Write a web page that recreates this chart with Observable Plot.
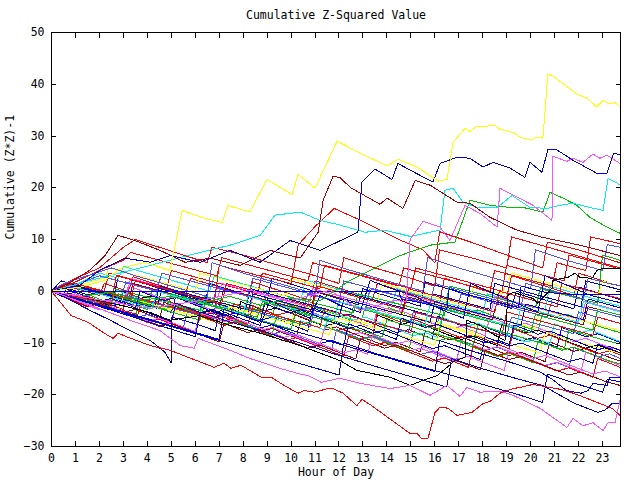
<!DOCTYPE html>
<html><head><meta charset="utf-8">
<script src="https://cdn.jsdelivr.net/npm/d3@7"></script>
<script src="https://cdn.jsdelivr.net/npm/@observablehq/plot@0.6"></script>
<style>body{margin:0;background:#fff;}</style>
</head><body><div id="chart"></div>
<script>
const chartTitle = "Cumulative Z-Squared Value";
const xTitle = "Hour of Day";
const yTitle = "Cumulative (Z*Z)-1";
const xTicks = [0,1,2,3,4,5,6,7,8,9,10,11,12,13,14,15,16,17,18,19,20,21,22,23];
const yTicks = [-30,-20,-10,0,10,20,30,40,50];

// each series: hour, value, hour, value, ...
const L1 = [0,0,0.6,-1,0.8,0.8,2,-0.8,2.2,1.5,3.2,0,3.4,2.8,4.6,1,5.6,-0.5,5.8,2.5,7,0.8,8.2,-1,8.4,1.8,9.6,0,10.8,-1.8,11,2,12.2,0.3,13.4,-1.5,13.6,1.5,15,-0.5,16.2,-2.2,16.4,2.5,17.8,0.5,19,-1.2,19.2,3,20.6,1,21.8,-0.8,22,3.5,23.73,1];
const L2 = [0,0,.5,-.8,1,-1.3,1.5,-.6,2,-1.5,2.5,-2.3,3,-1.9,3.5,-2.8,4,-3.5,4.2,.5,4.7,-.3,5.2,-1.2,5.7,-.8,6.2,-1.7,6.7,-2.6,7.2,-3.2,7.7,-2.5,8.2,-3.4,8.7,-4.3,9.2,-5,9.4,-1.8,9.9,-2.6,10.4,-3.4,10.9,-2.9,11.4,-3.8,11.9,-4.6,12.4,-5.4,12.9,-6.2,13.1,-3,13.6,-3.8,14.1,-3.2,14.6,-4.1,15.1,-5,15.6,-5.8,16.1,-6.5,16.3,-2.5,16.8,-3.3,17.3,-4.2,17.8,-3.6,18.3,-4.5,18.8,-5.4,19.3,-6.2,19.8,-7,20.3,-7.7,20.5,-4.2,21,-5,21.5,-4.4,22,-5.3,22.5,-6.2,23,-7,23.73,-8];
const L3 = [0,0,0.4,2,1.5,0.6,2.6,-0.9,2.8,3,4,1.3,5.2,-0.4,6.4,-2.1,6.6,1.5,7.8,-0.2,9,-1.9,9.2,2.5,10.4,0.8,11.6,-0.9,12.8,-2.6,13,0.5,14.2,-1.2,15.4,-2.9,15.6,1.8,16.8,0.1,18,-1.6,19.2,-3.3,19.4,0,20.6,-1.7,21.8,-3.4,22,0.8,23.73,-1.6];
const L4 = [0,0,.5,-.9,1,-.5,1.5,-1.4,2,-2.2,2.5,-1.6,3,-2.5,3.2,1,3.7,.2,4.2,-.7,4.7,-1.5,5.2,-1,5.7,-1.9,6.2,-2.8,6.7,-3.6,7.2,-3,7.7,-3.9,8.2,-4.8,8.4,-1.2,8.9,-2,9.4,-2.9,9.9,-2.3,10.4,-3.2,10.9,-4.1,11.4,-5,11.9,-4.4,12.4,-5.3,12.9,-6.2,13.4,-7.1,13.6,-3.5,14.1,-4.3,14.6,-3.8,15.1,-4.7,15.6,-5.6,16.1,-6.5,16.6,-7.3,17.1,-6.8,17.6,-7.7,18.1,-8.6,18.3,-5,18.8,-5.9,19.3,-6.8,19.8,-6.2,20.3,-7.1,20.8,-8,21.3,-8.9,21.8,-9.7,22.3,-9.1,22.8,-10,23.3,-10.9,23.73,-11.3];
const L5 = [0,0,1,1.2,2,3.5,2.8,2.5,3,4.8,4.2,3.2,5.4,1.6,6.6,0,6.8,3,8,1.4,9.2,-0.2,10.4,-1.8,10.6,2.2,11.8,0.6,13,-1,14.2,-2.6,14.4,0.5,15.6,-1.1,16.8,-2.7,18,-4.3,18.2,-0.5,19.4,-2.1,20.6,-3.7,20.8,1,22,-0.6,23.2,-2.2,23.73,-2.9];
const L6 = [0,0,1.2,-1.5,2.4,-3,2.6,-0.5,3.8,-2,5,-3.5,6.2,-5,6.4,-1.5,7.6,-3,8.8,-4.5,10,-6,10.2,-2.5,11.4,-4,12.6,-5.5,13.8,-7,14,-3.5,15.2,-5,16.4,-6.5,17.6,-8,17.8,-4.2,19,-5.7,20.2,-7.2,20.4,-3.5,21.6,-5,22.8,-6.5,23.73,-7.6];
const L7 = [0,0,.5,-.7,1,-1.5,1.5,-1,2,-1.9,2.5,-2.7,2.7,.3,3.2,-.5,3.7,-1.4,4.2,-.9,4.7,-1.8,5.2,-2.7,5.7,-3.5,6.2,-4.3,6.7,-3.7,7.2,-4.6,7.7,-5.5,7.9,-2,8.4,-2.9,8.9,-3.8,9.4,-3.2,9.9,-4.1,10.4,-5,10.9,-5.9,11.4,-6.7,11.9,-6.1,12.4,-7,12.9,-7.9,13.4,-8.7,13.6,-4.6,14.1,-5.5,14.6,-6.4,15.1,-5.8,15.6,-6.7,16.1,-7.6,16.6,-8.5,17.1,-9.3,17.6,-8.7,18.1,-9.6,18.6,-10.5,18.8,-6.3,19.3,-7.2,19.8,-8.1,20.3,-7.5,20.8,-8.4,21.3,-9.3,21.8,-10.2,22.3,-11,22.8,-10.4,23.3,-11.3,23.73,-12];
const L8 = [0,0,0.5,1.5,1.7,0,2.9,-1.5,3.1,1.8,4.3,0.3,5.5,-1.2,6.7,-2.7,6.9,0.8,8.1,-0.7,9.3,-2.2,10.5,-3.7,10.7,-0.5,11.9,-2,13.1,-3.5,13.3,0.5,14.5,-1,15.7,-2.5,16.9,-4,17.1,-0.5,18.3,-2,19.5,-3.5,20.7,-5,20.9,-1.5,22.1,-3,23.3,-4.5,23.73,-5];
const L9 = [0,0,.5,-1,1,-1.9,1.5,-1.4,2,-2.3,2.5,-3.2,3,-4.1,3.5,-3.5,4,-4.4,4.5,-5.3,4.7,-2.1,5.2,-3,5.7,-3.9,6.2,-4.8,6.7,-4.2,7.2,-5.1,7.7,-6,8.2,-6.9,8.7,-7.8,9.2,-7.2,9.7,-8.1,10.2,-9,10.4,-5.7,10.9,-6.6,11.4,-7.5,11.9,-6.9,12.4,-7.8,12.9,-8.7,13.4,-9.6,13.9,-10.5,14.4,-9.9,14.9,-10.8,15.4,-11.7,15.6,-7.6,16.1,-8.5,16.6,-9.4,17.1,-8.8,17.6,-9.7,18.1,-10.6,18.6,-11.5,19.1,-12.4,19.6,-11.8,20.1,-12.7,20.6,-13.6,20.8,-9.8,21.3,-10.7,21.8,-11.6,22.3,-11,22.8,-11.9,23.3,-12.8,23.73,-13.5];
const L10 = [0,0,1,1.5,2.2,0,2.4,3.5,3.6,2,4.8,0.5,5,4,6.2,2.5,7.4,1,8.6,-0.5,8.8,3.5,10,2,11.2,0.5,11.4,5,12.6,3.5,13.8,2,15,0.5,15.2,4.5,16.4,3,17.6,1.5,18.8,0,19,5,20.2,3.5,21.4,2,21.6,7,22.8,5.5,23.73,4.3];
const L11 = [0,0,1.2,-1.4,2.4,-2.8,2.6,0.5,3.8,-0.9,5,-2.3,6.2,-3.7,6.4,-1,7.6,-2.4,8.8,-3.8,9,0,10.2,-1.4,11.4,-2.8,12.6,-4.2,12.8,-0.5,14,-1.9,15.2,-3.3,16.4,-4.7,16.6,1,17.8,-0.4,19,-1.8,20.2,-3.2,20.4,0.5,21.6,-0.9,22.8,-2.3,23,7,23.73,6];
const L12 = [0,0,.5,.8,1,.1,1.5,-.7,2,-.2,2.5,-1.1,3,-2,3.5,-2.9,4,-2.3,4.5,-3.2,5,-4.1,5.2,-.8,5.7,-1.7,6.2,-2.6,6.7,-2,7.2,-2.9,7.7,-3.8,8.2,-4.7,8.7,-5.6,9.2,-5,9.7,-5.9,10.2,-6.8,10.7,-7.7,10.9,-3.2,11.4,-4.1,11.9,-5,12.4,-4.4,12.9,-5.3,13.4,-6.2,13.9,-7.1,14.4,-8,14.9,-7.4,15.4,-8.3,15.9,-9.2,16.1,-4.8,16.6,-5.7,17.1,-6.6,17.6,-6,18.1,-6.9,18.6,-7.8,19.1,-8.7,19.6,-9.6,20.1,-9,20.6,-9.9,21.1,-10.8,21.3,-7,21.8,-7.9,22.3,-8.8,22.8,-8.2,23.3,-9.1,23.73,-9.9];
const L13 = [0,0,0.7,1.5,1.9,0,3.1,-1.5,3.3,2.5,4.5,1,5.7,-0.5,6.9,-2,7.1,1.5,8.3,0,9.5,-1.5,10.7,-3,10.9,0.5,12.1,-1,13.3,-2.5,14.5,-4,14.7,-0.5,15.9,-2,17.1,-3.5,18.3,-5,18.5,-1,19.7,-2.5,20.9,-4,22.1,-5.5,22.3,-2,23.73,-3.8];
const L14 = [0,0,.5,-.8,1,-1.6,1.5,-2.4,2,-1.9,2.5,-2.8,2.7,.2,3.2,-.6,3.7,-1.5,4.2,-2.4,4.7,-1.8,5.2,-2.7,5.7,-3.6,6.2,-4.5,6.4,-1.5,6.9,-2.4,7.4,-3.3,7.9,-2.7,8.4,-3.6,8.9,-4.5,9.4,-5.4,9.9,-6.3,10.4,-5.7,10.9,-6.6,11.4,-7.5,11.6,-3.8,12.1,-4.7,12.6,-5.6,13.1,-5,13.6,-5.9,14.1,-6.8,14.6,-7.7,15.1,-8.6,15.6,-8,16.1,-8.9,16.3,-5,16.8,-5.9,17.3,-6.8,17.8,-6.2,18.3,-7.1,18.8,-8,19.3,-8.9,19.8,-9.8,20.3,-9.2,20.8,-10.1,21,-6.3,21.5,-7.2,22,-8.1,22.5,-7.5,23,-8.4,23.5,-9.3,23.73,-9.7];
const L15 = [0,0,1,1,2.2,2.5,2.4,4.5,3.6,3,4.8,1.5,6,0,6.2,3.5,7.4,2,8.6,0.5,9.8,-1,10,2.5,11.2,1,12.4,-0.5,13.6,-2,13.8,1.5,15,0,16.2,-1.5,17.4,-3,17.6,1,18.8,-0.5,19.2,3.5,20.4,2,21.6,0.5,22.8,-1,23,2,23.73,1];
const L16 = [0,0,.5,-1.1,1,-2,1.5,-1.5,2,-2.4,2.5,-3.3,3,-4.2,3.5,-5.1,4,-4.5,4.5,-5.4,5,-6.3,5.5,-7.1,5.7,-3.5,6.2,-4.4,6.7,-5.3,7.2,-4.7,7.7,-5.6,8.2,-6.5,8.7,-7.4,9.2,-8.3,9.7,-7.7,10.2,-8.6,10.7,-9.5,11.2,-10.4,11.7,-11.2,11.9,-7.4,12.4,-8.3,12.9,-9.2,13.4,-8.6,13.9,-9.5,14.4,-10.4,14.9,-11.3,15.4,-12.2,15.9,-11.6,16.4,-12.5,16.9,-13.4,17.1,-9.6,17.6,-10.5,18.1,-11.4,18.6,-10.8,19.1,-11.7,19.6,-12.6,20.1,-13.5,20.6,-14.4,21.1,-13.8,21.6,-14.7,21.8,-10.9,22.3,-11.8,22.8,-12.7,23.3,-12.1,23.73,-13];
const L17 = [0,0,0.8,1,2,-0.5,3.2,-2,3.4,1.5,4.6,0,5.8,-1.5,7,-3,7.2,0.5,8.4,-1,9.6,-2.5,10.8,-4,11,0,12.2,-1.5,13.4,-3,14.6,-4.5,14.8,-1,16,-2.5,17.2,-4,18.4,-5.5,18.6,-2,19.8,-3.5,21,-5,22.2,-6.5,22.4,-3,23.73,-4.6];
const L18 = [0,0,.5,-.6,1,-1.4,1.5,-.9,2,-1.8,2.5,-2.7,3,-3.5,3.2,-.4,3.7,-1.3,4.2,-2.2,4.7,-1.6,5.2,-2.5,5.7,-3.4,6.2,-4.3,6.7,-5.2,7.2,-4.6,7.7,-5.5,8.2,-6.4,8.4,-2.8,8.9,-3.7,9.4,-4.6,9.9,-4,10.4,-4.9,10.9,-5.8,11.4,-6.7,11.9,-7.6,12.4,-7,12.9,-7.9,13.4,-8.8,13.6,-4.2,14.1,-5.1,14.6,-6,15.1,-5.4,15.6,-6.3,16.1,-7.2,16.6,-8.1,17.1,-9,17.6,-8.4,18.1,-9.3,18.6,-10.2,19.1,-11.1,19.3,-7.3,19.8,-8.2,20.3,-9.1,20.8,-8.5,21.3,-9.4,21.8,-10.3,22.3,-11.2,22.8,-12.1,23.3,-11.5,23.73,-12.3];
const L19 = [0,0,1,-1.2,1.2,1,2.4,-0.5,3.6,-2,4.8,-3.5,5,-0.5,6.2,-2,7.4,-3.5,8.6,-5,8.8,-2,10,-3.5,11.2,-5,12.4,-6.5,12.6,-3,13.8,-4.5,15,-6,16.2,-7.5,16.4,-3.5,17.6,-5,18.8,-6.5,20,-8,20.2,-4.5,21.4,-6,22.6,-7.5,22.8,-3.5,23.73,-4.6];
const L20 = [0,0,0.8,1.2,2,-0.3,3.2,-1.8,4.4,-3.3,4.6,0.5,5.8,-1,7,-2.5,8.2,-4,8.4,-0.5,9.6,-2,10.8,-3.5,12,-5,12.2,-1.5,13.4,-3,14.6,-4.5,15.8,-6,16,-2,17.2,-3.5,18.4,-5,19.6,-6.5,19.8,-2.5,21,-4,22.2,-5.5,22.4,-1.5,23.73,-3.2];
const L21 = [0,0,.5,-1,1,-1.9,1.5,-2.8,2,-2.2,2.5,-3.1,3,-4,3.5,-4.9,4,-5.8,4.5,-5.2,5,-6.1,5.2,-2.8,5.7,-3.7,6.2,-4.6,6.7,-4,7.2,-4.9,7.7,-5.8,8.2,-6.7,8.7,-7.6,9.2,-7,9.7,-7.9,10.2,-8.8,10.7,-9.7,11.2,-10.6,11.4,-6.8,11.9,-7.7,12.4,-8.6,12.9,-8,13.4,-8.9,13.9,-9.8,14.4,-10.7,14.9,-11.6,15.4,-11,15.9,-11.9,16.4,-12.8,16.9,-13.7,17.1,-9.5,17.6,-10.4,18.1,-11.3,18.6,-10.7,19.1,-11.6,19.6,-12.5,20.1,-13.4,20.6,-14.3,21.1,-13.7,21.6,-14.6,22.1,-15.5,22.3,-11.8,22.8,-12.7,23.3,-13.6,23.73,-14.3];
const L22 = [0,0,1,1.8,2,4,3,6,3.3,7.5,4.5,6,5.7,4.5,6.9,3,7.1,6.5,8.3,5,9.5,3.5,10.7,2,10.9,5.5,12.1,4,13.3,2.5,14.5,1,14.7,4.5,15.9,3,17.1,1.5,18.3,0,18.5,4,19.7,2.5,20.9,1,21.1,5.5,22.3,4,22.5,10.5,23.73,9.2];
const L23 = [0,0,1.3,-1.6,2.6,-3.2,2.8,-0.5,4.1,-2.1,5.4,-3.7,6.7,-5.3,6.9,-2,8.2,-3.6,9.5,-5.2,10.8,-6.8,11,-3,12.3,-4.6,13.6,-6.2,14.9,-7.8,15.1,-4,16.4,-5.6,17.7,-7.2,19,-8.8,19.2,-5,20.5,-6.6,21.8,-8.2,22,-4,23.73,-6.2];
const L24 = [0,0,.5,-.9,1,-1.8,1.5,-1.2,2,-2.1,2.5,-3,3,-3.9,3.5,-4.8,3.7,-1.6,4.2,-2.5,4.7,-3.4,5.2,-2.8,5.7,-3.7,6.2,-4.6,6.7,-5.5,7.2,-6.4,7.7,-5.8,8.2,-6.7,8.7,-7.6,9.2,-8.5,9.4,-4.6,9.9,-5.5,10.4,-6.4,10.9,-5.8,11.4,-6.7,11.9,-7.6,12.4,-8.5,12.9,-9.4,13.4,-8.8,13.9,-9.7,14.4,-10.6,14.9,-11.5,15.1,-7.8,15.6,-8.7,16.1,-9.6,16.6,-9,17.1,-9.9,17.6,-10.8,18.1,-11.7,18.6,-12.6,19.1,-12,19.6,-12.9,20.1,-13.8,20.3,-9.6,20.8,-10.5,21.3,-11.4,21.8,-10.8,22.3,-11.7,22.8,-12.6,23.3,-13.5,23.73,-14];
const L25 = [0,0,0.5,-0.8,0.7,1.5,1.9,0,3.1,-1.5,4.3,-3,4.5,1,5.7,-0.5,6.9,-2,8.1,-3.5,8.3,0.5,9.5,-1,10.7,-2.5,11.9,-4,12.1,0,13.3,-1.5,14.5,-3,15.7,-4.5,15.9,-0.5,17.1,-2,18.3,-3.5,18.5,1.5,19.7,0,20.9,-1.5,22.1,-3,22.3,2,23.73,0.3];
const L26 = [0,0,1.2,-1.5,2.4,-3,3.6,-4.5,3.8,-1.5,5,-3,6.2,-4.5,7.4,-6,7.6,-2.5,8.8,-4,10,-5.5,11.2,-7,11.4,-3.5,12.6,-5,13.8,-6.5,15,-8,15.2,-4,16.4,-5.5,17.6,-7,18.8,-8.5,19,-4,20.2,-5.5,21.4,-7,22.6,-8.5,22.8,-5,23.73,-6.2];
const L27 = [0,0,1.4,-1.8,2.8,-3.6,3,-1,4.4,-2.8,5.8,-4.6,7.2,-6.4,7.4,-3,8.8,-4.8,10.2,-6.6,11.6,-8.4,11.8,-5,13.2,-6.8,14.6,-8.6,16,-10.4,16.2,-6.5,17.6,-8.3,19,-10.1,20.4,-11.9,20.6,-8,22,-9.8,23.73,-12];
const L28 = [0,0,.5,-.7,1,-.2,1.5,-1.1,2,-2,2.5,-2.9,3,-2.3,3.5,-3.2,4,-4.1,4.5,-5,5,-5.9,5.2,-2.3,5.7,-3.2,6.2,-4.1,6.7,-3.5,7.2,-4.4,7.7,-5.3,8.2,-6.2,8.7,-7.1,9.2,-6.5,9.7,-7.4,10.2,-8.3,10.7,-9.2,11.2,-10.1,11.7,-9.5,12.2,-10.4,12.4,-6.3,12.9,-7.2,13.4,-8.1,13.9,-7.5,14.4,-8.4,14.9,-9.3,15.4,-10.2,15.9,-11.1,16.4,-10.5,16.9,-11.4,17.4,-12.3,17.9,-13.2,18.1,-8.8,18.6,-9.7,19.1,-10.6,19.6,-10,20.1,-10.9,20.6,-11.8,21.1,-12.7,21.6,-13.6,22.1,-13,22.6,-13.9,22.8,-10.2,23.3,-11.1,23.73,-11.9];
const L29 = [0,0,0.6,1.2,1.8,-0.3,3,-1.8,4.2,-3.3,4.4,0,5.6,-1.5,6.8,-3,8,-4.5,8.2,-1,9.4,-2.5,10.6,-4,11.8,-5.5,12,-2,13.2,-3.5,14.4,-5,15.6,-6.5,15.8,-2.5,17,-4,18.2,-5.5,19.4,-7,19.6,-3,20.8,-4.5,22,-6,22.2,-2,23.73,-4];
const L30 = [0,0,.5,-1.1,1,-2.1,1.5,-3,2,-2.4,2.5,-3.3,3,-4.2,3.5,-5.1,4,-6,4.5,-5.4,5,-6.3,5.5,-7.2,6,-8.1,6.2,-4.8,6.7,-5.7,7.2,-6.6,7.7,-6,8.2,-6.9,8.7,-7.8,9.2,-8.7,9.7,-9.6,10.2,-9,10.7,-9.9,11.2,-10.8,11.7,-11.7,12.2,-12.6,12.4,-8.7,12.9,-9.6,13.4,-10.5,13.9,-9.9,14.4,-10.8,14.9,-11.7,15.4,-12.6,15.9,-13.5,16.4,-12.9,16.9,-13.8,17.4,-14.7,17.6,-10.6,18.1,-11.5,18.6,-12.4,19.1,-11.8,19.6,-12.7,20.1,-13.6,20.6,-14.5,21.1,-15.4,21.6,-14.8,22.1,-15.7,22.6,-16.6,22.8,-13,23.3,-13.9,23.73,-14.7];
const L31 = [0,0,1,1.2,2,3,3.2,1.5,4.4,0,4.6,3.5,5.8,2,7,0.5,8.2,-1,8.4,2.5,9.6,1,10.8,-0.5,12,-2,12.2,2,13.4,0.5,14.6,-1,15.8,-2.5,16,1.5,17.2,0,18.4,-1.5,19.6,-3,19.8,1.5,21,0,22.2,-1.5,22.4,2.5,23.73,1];
const L32 = [0,0,1.2,-1.6,2.4,-3.2,2.6,-0.8,3.8,-2.4,5,-4,6.2,-5.6,6.4,-2.5,7.6,-4.1,8.8,-5.7,10,-7.3,10.2,-4,11.4,-5.6,12.6,-7.2,13.8,-8.8,14,-5.5,15.2,-7.1,16.4,-8.7,17.6,-10.3,17.8,-6.5,19,-8.1,20.2,-9.7,21.4,-11.3,21.6,-7.5,22.8,-9.1,23.73,-10.2];
const L33 = [0,0,.5,-.9,1,-1.8,1.5,-2.7,2,-3.6,2.5,-3,3,-3.9,3.5,-4.8,4,-5.7,4.5,-6.6,5,-6,5.5,-6.9,6,-7.8,6.2,-4.1,6.7,-5,7.2,-5.9,7.7,-5.3,8.2,-6.2,8.7,-7.1,9.2,-8,9.7,-8.9,10.2,-8.3,10.7,-9.2,11.2,-10.1,11.7,-11,12.2,-11.9,12.7,-11.3,13.2,-12.2,13.4,-8.4,13.9,-9.3,14.4,-10.2,14.9,-9.6,15.4,-10.5,15.9,-11.4,16.4,-12.3,16.9,-13.2,17.4,-12.6,17.9,-13.5,18.4,-14.4,18.9,-15.3,19.1,-11.2,19.6,-12.1,20.1,-13,20.6,-12.4,21.1,-13.3,21.6,-14.2,22.1,-15.1,22.6,-16,23.1,-15.4,23.73,-16.5];
const L34 = [0,0,0.9,1.5,2.1,0,3.3,-1.5,3.5,2,4.7,0.5,5.9,-1,7.1,-2.5,7.3,1.5,8.5,0,9.7,-1.5,10.9,-3,11.1,1,12.3,-0.5,13.5,-2,14.7,-3.5,14.9,0.5,16.1,-1,17.3,-2.5,18.5,-4,18.7,0,19.9,-1.5,21.1,-3,21.3,1.5,22.5,0,23.73,-1.4];
const L35 = [0,0,.5,.6,1,-.2,1.5,-1.1,2,-2,2.5,-1.4,3,-2.3,3.5,-3.2,3.7,0,4.2,-.9,4.7,-1.8,5.2,-1.2,5.7,-2.1,6.2,-3,6.7,-3.9,7.2,-4.8,7.7,-4.2,8.2,-5.1,8.7,-6,8.9,-2.4,9.4,-3.3,9.9,-4.2,10.4,-3.6,10.9,-4.5,11.4,-5.4,11.9,-6.3,12.4,-7.2,12.9,-6.6,13.4,-7.5,13.9,-8.4,14.4,-9.3,14.6,-5.2,15.1,-6.1,15.6,-7,16.1,-6.4,16.6,-7.3,17.1,-8.2,17.6,-9.1,18.1,-10,18.6,-9.4,19.1,-10.3,19.3,-6.5,19.8,-7.4,20.3,-8.3,20.8,-7.7,21.3,-8.6,21.8,-9.5,22.3,-10.4,22.8,-11.3,23.3,-10.7,23.73,-11.4];
const L36 = [0,0,.5,-1,1,-2,1.5,-2.9,2,-2.3,2.5,-3.2,3,-4.1,3.5,-5,4,-5.9,4.5,-6.8,5,-6.2,5.5,-7.1,6,-8,6.5,-8.9,7,-9.8,7.2,-6.2,7.7,-7.1,8.2,-8,8.7,-7.4,9.2,-8.3,9.7,-9.2,10.2,-10.1,10.7,-11,11.2,-10.4,11.7,-11.3,12.2,-12.2,12.7,-13.1,12.9,-9.2,13.4,-10.1,13.9,-11,14.4,-10.4,14.9,-11.3,15.4,-12.2,15.9,-13.1,16.4,-14,16.9,-13.4,17.4,-14.3,17.9,-15.2,18.1,-11.4,18.6,-12.3,19.1,-13.2,19.6,-12.6,20.1,-13.5,20.6,-14.4,21.1,-15.3,21.6,-16.2,22.1,-15.6,22.6,-16.5,23.1,-17.4,23.73,-18.2];
const redPeak = [0,0,1,2.5,2,4.5,3,8.5,3.5,10,4.5,8.5,5.5,7,6.5,5.5,6.7,8.5,8,7,9.5,5,11,3,12,1.5,12.2,6.5,13.5,4.5,15,2.5,16,1,16.2,8,17.5,6.5,19,4.5,19.2,10.5,20.5,8.8,22,6.8,23.73,4.5];
const redMid = [0,0,1,-1,2.5,-2.5,2.7,3,4,1.5,5.5,-0.5,6.8,-2,7,5,8.5,3.2,10,1.5,10.3,9,11,12.5,11.8,16,13,13.5,14.5,10,15.5,8,16,5.5,16.2,11.5,17.5,9.5,19,7,20.5,4.5,20.7,9.5,22,8,23.73,5.5];
const lblueHigh = [0,0,0.5,1.5,1.5,3,2.5,4.5,3.5,3,5,1,6.5,-1,6.7,5.5,8,3.5,9.5,1.5,11,-0.5,11.2,6,12.5,4,14,2,15.5,0,15.7,6.5,17,4.5,18.5,2.5,20,0.5,20.2,8,21.5,6,23,4,23.2,9,23.73,8.5];
const blueLow = [0,0,1,-1.5,2.5,-3.5,4,-5.5,5.5,-7.5,7,-9.5,8.5,-11.5,10,-13.5,11.5,-15.5,12,-16.2,12.2,-10,13.5,-12,15,-14,16.5,-16,18,-18,19.5,-20,20.5,-21.5,20.7,-16,22,-18,23,-19.5,23.2,-17,23.73,-17.5];
const blueLow2 = [0,0,1.5,-2.2,3,-4.4,4.5,-6.6,6,-8.8,6.2,-4,7.5,-6,9,-8,10.5,-10.2,12,-12.4,13.5,-14.5,15,-16.5,16.5,-18.5,16.7,-13,18,-15,19.5,-17,20.5,-18.2,21,-19.5,21.8,-21.6,22.8,-23.4,23.1,-23,23.4,-21.7,23.73,-21.7];
const blueLow3 = [0,0,1,-1.3,2.5,-3.3,4,-5.3,5.5,-7.3,7,-9.3,7.2,-3.5,8.5,-5.5,10,-7.5,11.5,-9.5,13,-11.5,14.5,-13.5,16,-15.5,16.2,-9.5,17.5,-11.5,19,-13.5,20.4,-15.6,20.9,-17,21.5,-19.2,22.1,-19.7,22.4,-19.2,22.6,-17.8,23.2,-18.2,23.3,-16.6,23.73,-16.6];
const flatBlue = [0,-0.1,14.5,-0.1,14.6,-1.5,15.5,-2.3,16.5,-3.5,16.6,0.5,17.5,-0.8,18.5,-2,19.5,-3.2,19.6,1,20.6,-0.2,21.7,-0.6,23.73,-0.6];
const blueDrop = [0,0,0.78,-1.7,1.61,-3.7,2.45,-5.6,3.28,-7.6,4.12,-9.5,4.74,-11.8,4.99,-13.8,5.03,-5,5.79,-6,6.2,-6.6,6.83,-7.6,7.04,-3.7,7.87,-5.2,8.71,-6.6,9.12,-1.8,9.96,-3.7,10.79,-5.2,11.21,-0.8,12.04,-2.7,12.88,-4.1,13.3,2.1,14.13,0.6,15.2,-1,15.8,-2.5,16.5,-4,17.2,-5.2,17.5,1.5,18.5,-0.5,19.5,-2.5,20.3,-4,20.6,3,21.5,1.2,22.5,-0.8,23.73,-2.2];
const blackLine = [0,0,1.2,-1,2.87,-2.7,4.12,-4.1,4.95,-5.6,6.2,-4.7,7.45,-6.6,8.71,-8.1,10.38,-10.5,12.04,-13.4,12.75,-15.3,14.13,-16.6,14.97,-18.2,15.51,-17.2,16.09,-16.3,16.51,-14.7,16.84,-13.4,17.26,-12.8,17.34,-5.6,17.88,-6.6,18.51,-8.5,18.93,-9.5,19.05,-0.8,19.26,-0.2,20.1,-1.4,20.3,-2.3,20.89,0.6,20.93,2.1,21.31,2.5,21.56,2.7,21.85,3.5,22.06,2.7,22.56,2.5,22.76,4,22.98,4.4,23.31,4.4,23.73,4.4];
const magentaLow = [0,0,1.61,-2.7,3.28,-5.6,4.53,-7.6,5.37,-10.5,5.96,-11,6.12,-9.1,7.45,-11.4,8.29,-13,9.54,-14.9,10.29,-15.9,10.71,-16.3,11.26,-17.6,12.04,-16.8,12.88,-17.8,14.13,-18.8,14.97,-18.2,15.8,-20.1,16.51,-18.2,17.05,-20.3,17.34,-18.6,17.88,-19.5,18.72,-19.3,19.26,-20.1,20.39,-22.6,20.93,-24.4,21.51,-26.3,21.77,-24.6,22.18,-26,22.6,-25.4,23.02,-26.9,23.23,-25.4,23.52,-25.4,23.73,-21.1];
const redLow = [0,0,0.82,-4.7,1.53,-6,2.2,-8.1,2.57,-9.1,2.78,-8.1,3.2,-8.9,4.12,-10.5,4.95,-11.4,5.83,-13,6.79,-14.7,7.2,-13.9,7.49,-14.9,7.91,-14.3,8.75,-16.6,9.17,-16.6,9.71,-18.2,10.29,-19.7,10.54,-19.2,10.96,-19.5,11.55,-18.8,11.75,-18.8,12.17,-19.7,12.75,-22.1,12.96,-20.9,13.3,-21.9,14.97,-27.5,15.26,-27.5,15.46,-28.5,15.71,-28.5,16.01,-23.4,16.22,-22.4,16.55,-22.6,16.93,-24,17.34,-23.6,17.55,-23.4,18.01,-21.7,18.3,-21.3,18.72,-19.7,19.26,-18.8,19.55,-18.6,20.1,-18,20.8,-18.6,21.3,-19,21.77,-19.7,22.35,-20.7,22.89,-21.7,23.39,-22.6,23.73,-24];
const greenHigh = [0,0,1.2,-1,2.45,-0.2,3.7,-1.8,4.95,-1,6.2,-2.3,7.45,-1,8.71,-2.7,9.96,-1.4,11.21,-1.8,12.46,2.1,13.71,5,14.55,6.9,15.8,8.9,16.84,9.5,17.47,17.6,18.3,16.6,19.14,16.2,19.68,16.2,20.51,15.3,20.81,19.1,21.35,18,21.93,16.6,22.47,14.3,23.18,12.4,23.73,11.2];
const cyanHigh = [0,0,1.61,2.1,3.28,4,4.95,6,6.2,7.5,7.45,8.9,8.71,10.8,9.33,14.7,10.38,15.3,11.21,13.7,12.04,12.8,13.09,11.4,13.92,11.8,14.97,10.6,16.22,11.8,16.42,19.5,16.76,19.9,17.18,17.2,17.76,16.2,18.6,16.2,19.22,18.5,19.97,16.2,20.68,16,21.22,16.6,21.77,17,22.47,16.2,23.02,15.6,23.23,21.8,23.6,20.9,23.73,20.5];
const magentaHigh = [0,0,2.03,-1.7,4.12,-3.3,6.2,-1.8,8.29,0.2,9.96,-1.8,11.63,0.2,12.88,-3.7,14.34,-1.8,14.8,-2,14.97,10,15.51,13.5,16.22,12.4,16.63,9.8,17.26,16.6,17.9,15,18.6,12.4,18.72,19.9,19.43,18.2,20.1,16.6,20.89,13.7,20.93,26.1,21.51,25.1,21.77,25.7,22.18,24.9,22.6,26.5,22.89,25.7,23.18,26.3,23.73,24.7];
const darkRedHigh = [0,0,0.78,1.7,1.61,4.1,2.24,6.9,2.57,9.3,2.78,10.8,3.49,9.8,4.53,7.9,5.58,5.6,6.62,6.4,7.87,5,9.12,7.9,10.38,6.4,11.13,11.4,11.34,17.6,11.75,22.2,12.04,22,12.46,20.1,13.71,16.8,14.01,18,14.67,16,15.18,21.4,15.8,20.5,16.93,17.2,17.47,17,18.3,14.3,19.43,11.8,20.51,10.4,22.06,8.9,23.73,6.9];
const blueHigh = [0,0,1.2,1.2,2.03,4.1,3.07,6.4,4.12,5.6,4.95,6.9,6.2,5.6,7.45,7.9,8.71,5.6,9.96,9.8,11.21,7.9,12.79,11.4,12.96,21.1,13.51,23.6,14.21,21.6,14.46,24.7,14.97,23.4,15.92,21.1,16.22,24.7,16.93,25.9,17.47,25.7,18.01,24,18.43,24.9,19.14,23.8,19.76,22,19.97,24.9,20.47,23,20.72,27.4,21.1,27.3,21.77,25.3,22.76,22.8,23.18,22.8,23.47,26.7,23.73,26.3];
const yellowTop = [0,0,1.2,0.8,2.24,2.1,2.87,4.4,3.91,5.6,4.95,4,5.45,15.6,6.41,14.1,7.12,13.3,7.37,16.6,8.29,15.3,8.58,18,9,21.6,10.04,18.7,10.29,22.6,11,19.9,11.92,29,12.88,26.7,14.01,24.2,14.46,25.5,15.26,24,16.13,21.3,16.51,21.6,16.76,28.8,17.26,31.5,17.47,30.9,17.76,31.9,18.18,31.9,18.51,32.1,18.72,31.3,19.26,30.7,19.55,29.8,20.01,29.2,20.26,29.8,20.51,29.6,20.72,42,20.93,41.6,21.93,38.1,22.35,37.3,22.76,35.6,23.02,36.9,23.31,36.2,23.52,36.5,23.73,35.6];

const red = "#ff0000", green = "#00c000", blue = "#0000cc", lblue = "#5050ff",
      magenta = "#ff50ff", cyan = "#00f0f0", yellow = "#ffff00", black = "#000000", dred = "#a00000";

const seriesList = [L1,L2,L3,L4,L5,L6,L7,L8,L9,L10,L11,L12,L13,L14,L15,L16,L17,L18,L19,L20,L21,L22,L23,L24,L25,L26,L27,L28,L29,L30,L31,L32,L33,L34,L35,L36,
  redPeak,redMid,lblueHigh,blueLow,blueLow2,blueLow3,flatBlue,blueDrop,blackLine,magentaLow,redLow,greenHigh,cyanHigh,magentaHigh,darkRedHigh,blueHigh,yellowTop];
const seriesColors = [red,green,blue,magenta,cyan,yellow,black,lblue,dred,red,green,blue,magenta,cyan,yellow,lblue,dred,red,green,blue,magenta,red,lblue,green,blue,red,yellow,blue,cyan,red,lblue,green,magenta,red,blue,dred,
  red,red,lblue,blue,blue,blue,blue,blue,black,magenta,red,green,cyan,magenta,dred,blue,yellow];

const rows = [];
seriesList.forEach((s, i) => {
  for (let j = 0; j < s.length; j += 2) rows.push({id: i, h: s[j], v: s[j + 1], color: seriesColors[i]});
});

const chart = Plot.plot({
  width: 640, height: 480,
  marginLeft: 51, marginRight: 20, marginTop: 32, marginBottom: 34,
  style: {fontFamily: "'DejaVu Sans Mono', monospace", fontSize: "11.5px", background: "#fff", color: "#000"},
  x: {domain: [0, 23.75]},
  y: {domain: [-30, 50]},
  marks: [
    Plot.line(rows, {x: "h", y: "v", z: "id", stroke: "color", strokeWidth: 1, shapeRendering: "crispEdges"}),
    Plot.frame({stroke: "#000", shapeRendering: "crispEdges"}),
    Plot.axisX({anchor: "bottom", ticks: xTicks, tickSize: -5, tickPadding: 12, label: null, shapeRendering: "crispEdges"}),
    Plot.axisX({anchor: "top", ticks: xTicks, tickSize: -5, tickFormat: () => "", label: null, shapeRendering: "crispEdges"}),
    Plot.axisY({anchor: "left", ticks: yTicks, tickSize: -5, tickPadding: 12, label: null, shapeRendering: "crispEdges"}),
    Plot.axisY({anchor: "right", ticks: yTicks, tickSize: -5, tickFormat: () => "", label: null, shapeRendering: "crispEdges"}),
    Plot.text([chartTitle], {frameAnchor: "top", lineAnchor: "middle", dy: -17}),
    Plot.text([xTitle], {frameAnchor: "bottom", lineAnchor: "middle", dy: 26}),
    Plot.text([yTitle], {frameAnchor: "left", lineAnchor: "middle", dx: -41, rotate: -90})
  ]
});
document.getElementById("chart").appendChild(chart);
</script>
</body></html>
